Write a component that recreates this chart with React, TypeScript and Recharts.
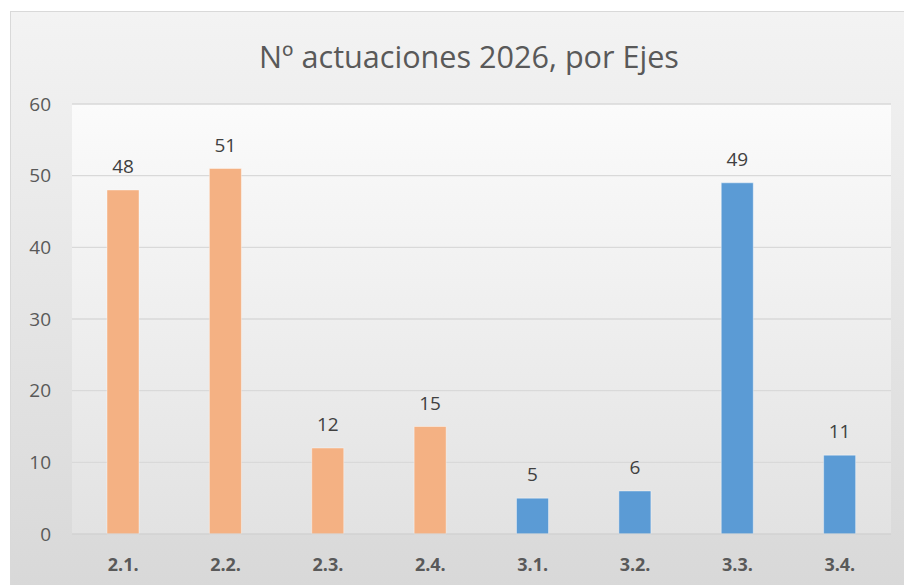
import React from 'react';
import { BarChart, Bar, XAxis, YAxis, CartesianGrid, Cell, LabelList } from 'recharts';

const categories = ['2.1.', '2.2.', '2.3.', '2.4.', '3.1.', '3.2.', '3.3.', '3.4.'];
const values = [48, 51, 12, 15, 5, 6, 49, 11];
const yTicks = [0, 10, 20, 30, 40, 50, 60];

const ORANGE = '#F4B183';
const BLUE = '#5B9BD5';
const FONT = '"Open Sans", "Noto Sans", sans-serif';

const data = categories.map((name, i) => ({ name, value: values[i] }));

const App: React.FC = () => {
  return (
    <div
      style={{
        position: 'fixed',
        left: 10,
        top: 11,
        width: 900,
        height: 580,
        boxSizing: 'border-box',
        border: '1px solid #d9d9d9',
        background: 'linear-gradient(to bottom, #f3f3f3 0%, #d8d8d8 100%)',
        fontFamily: FONT,
      }}
    >
      <div
        style={{
          position: 'absolute',
          left: 458,
          top: 24,
          transform: 'translateX(-50%)',
          whiteSpace: 'nowrap',
          fontSize: 30.6,
          lineHeight: '40px',
          color: '#595959',
        }}
      >
        Nº actuaciones 2026, por Ejes
      </div>
      <BarChart
        width={893}
        height={574}
        data={data}
        margin={{ top: 92, right: 13, bottom: 22, left: 0 }}
      >
        <defs>
          <linearGradient id="plotBg" x1="0" y1="0" x2="0" y2="1">
            <stop offset="0%" stopColor="#fbfbfb" />
            <stop offset="100%" stopColor="#e2e2e2" />
          </linearGradient>
        </defs>
        <CartesianGrid vertical={false} stroke="#d9d9d9" strokeWidth={1.3} fill="url(#plotBg)" />
        <XAxis
          dataKey="name"
          height={30}
          axisLine={{ stroke: '#d0d0d0' }}
          tickLine={false}
          tickMargin={18}
          tick={{ fill: '#595959', fontSize: 18, fontWeight: 700, fontFamily: FONT }}
        />
        <YAxis
          width={61}
          domain={[0, 60]}
          ticks={yTicks}
          axisLine={false}
          tickLine={false}
          tickMargin={15}
          tick={{ fill: '#595959', fontSize: 19, fontFamily: FONT }}
        />
        <Bar dataKey="value" barSize={32} isAnimationActive={false} stroke="#ffffff" strokeOpacity={0.4}>
          {data.map((d) => (
            <Cell key={d.name} fill={d.name.startsWith('2') ? ORANGE : BLUE} />
          ))}
          <LabelList dataKey="value" position="top" offset={17} fill="#404040" fontSize={19} fontFamily={FONT} />
        </Bar>
      </BarChart>
    </div>
  );
};

export default App;
